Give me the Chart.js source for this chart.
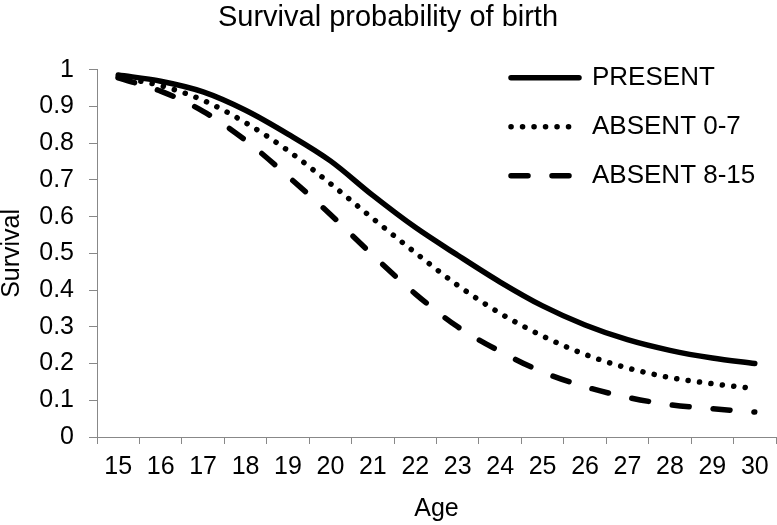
<!DOCTYPE html>
<html>
<head>
<meta charset="utf-8">
<script src="https://cdn.jsdelivr.net/npm/chart.js@4.4.1/dist/chart.umd.min.js"></script>
<style>
html,body{margin:0;padding:0;background:#fff;}
canvas{display:block;}
</style>
</head>
<body>
<canvas id="c" width="777" height="525"></canvas>
<script>
const ages = ['15','16','17','18','19','20','21','22','23','24','25','26','27','28','29','30'];
const present   = [0.986,0.969,0.940,0.890,0.825,0.752,0.658,0.571,0.495,0.422,0.357,0.305,0.265,0.236,0.215,0.200];
const absent07  = [0.980,0.957,0.917,0.856,0.780,0.690,0.595,0.502,0.413,0.337,0.275,0.225,0.188,0.162,0.145,0.132];
const absent815 = [0.978,0.942,0.887,0.808,0.710,0.606,0.495,0.390,0.300,0.233,0.177,0.137,0.108,0.088,0.077,0.068];
const seriesNames = ['PRESENT','ABSENT 0-7','ABSENT 8-15'];

const FONT = '"Liberation Sans", Arial, Helvetica, sans-serif';

const legendMover = {
  id: 'legendMover',
  afterLayout(chart) {
    const lg = chart.legend;
    const ca = chart.chartArea;
    if (!lg) return;
    const w = lg.width, h = lg.height;
    lg.left = ca.right - 288;
    lg.top = ca.top - 28;
    lg.right = lg.left + w;
    lg.bottom = lg.top + h;
  }
};

new Chart(document.getElementById('c'), {
  type: 'line',
  data: {
    labels: ages,
    datasets: [
      { label: seriesNames[0], data: present, borderColor: '#000', backgroundColor: '#000',
        borderWidth: 5.5, borderCapStyle: 'round', borderDash: [], pointRadius: 0,
        cubicInterpolationMode: 'monotone', fill: false },
      { label: seriesNames[1], data: absent07, borderColor: '#000', backgroundColor: '#000',
        borderWidth: 5.5, borderCapStyle: 'round', borderDash: [0.1, 11.4], pointRadius: 0,
        cubicInterpolationMode: 'monotone', fill: false },
      { label: seriesNames[2], data: absent815, borderColor: '#000', backgroundColor: '#000',
        borderWidth: 5.5, borderCapStyle: 'round', borderDash: [17, 24], pointRadius: 0,
        cubicInterpolationMode: 'monotone', fill: false }
    ]
  },
  options: {
    responsive: false,
    animation: false,
    devicePixelRatio: 1,
    layout: { padding: { left: 0, right: 1, top: 0, bottom: 0 } },
    plugins: {
      title: {
        display: true,
        text: 'Survival probability of birth',
        color: '#000',
        font: { family: FONT, size: 29, weight: 'normal', lineHeight: 1.2 },
        padding: { top: 1, bottom: 34 }
      },
      legend: {
        display: true,
        position: 'chartArea',
        align: 'start',
        labels: {
          color: '#000',
          font: { family: FONT, size: 26 },
          usePointStyle: true,
          pointStyle: 'line',
          pointStyleWidth: 68,
          padding: 23,
          generateLabels(chart) {
            const items = Chart.defaults.plugins.legend.labels.generateLabels(chart);
            items.forEach(it => {
              const ds = chart.data.datasets[it.datasetIndex];
              it.lineDash = ds.borderDash || [];
              it.lineCap = ds.borderCapStyle || 'butt';
              it.lineWidth = ds.borderWidth;
            });
            return items;
          }
        }
      },
      tooltip: { enabled: false }
    },
    scales: {
      x: {
        type: 'category',
        offset: true,
        grid: { offset: true, drawOnChartArea: false, drawTicks: true, tickLength: 7, color: '#888', lineWidth: 1 },
        border: { display: true, color: '#888', width: 1 },
        ticks: { color: '#000', font: { family: FONT, size: 25 }, padding: 8, maxRotation: 0, autoSkip: false },
        title: { display: true, text: 'Age', color: '#000', font: { family: FONT, size: 25, lineHeight: 1.2 }, padding: { top: 0, bottom: 1 } },
        afterFit(s) { s.height = 88; }
      },
      y: {
        min: 0,
        max: 1,
        grid: { drawOnChartArea: false, drawTicks: true, tickLength: 8, color: '#888', lineWidth: 1 },
        border: { display: true, color: '#888', width: 1 },
        ticks: {
          stepSize: 0.1,
          color: '#000',
          font: { family: FONT, size: 25 },
          padding: 15,
          callback: (v) => String(Math.round(v * 10) / 10)
        },
        title: { display: true, text: 'Survival', color: '#000', font: { family: FONT, size: 25, lineHeight: 1 }, padding: 0 },
        afterFit(s) { s.width = 97; }
      }
    }
  },
  plugins: [legendMover]
});
</script>
</body>
</html>
